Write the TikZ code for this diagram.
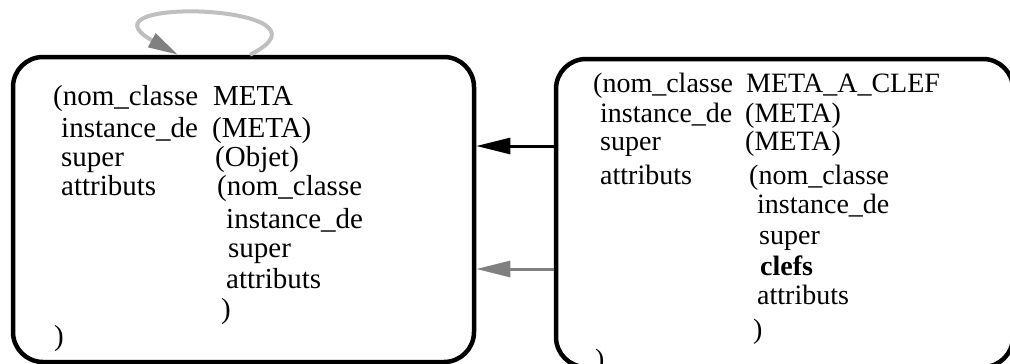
\documentclass[tikz,border=0pt]{standalone}
\usepackage{fontspec}
\setmainfont{Liberation Serif}
\usetikzlibrary{arrows.meta,calc}
\tikzset{
  class box/.style={draw,line width=4.5pt,rounded corners=30pt,inner sep=0pt},
  slot/.style={anchor=base west,inner sep=0pt,font=\fontsize{29}{30}\selectfont},
  clef slot/.style={slot,font=\fontsize{28}{30}\selectfont},
  link arrow/.style={-{Triangle[length=34pt,width=16pt]},line width=3pt},
  loop arrow/.style={draw=gray!50,line width=4pt,-{Triangle[length=30pt,width=15pt,color=gray]}}
}
\begin{document}
\begin{tikzpicture}[x=1pt,y=-1pt]
  \useasboundingbox (0,0) rectangle (1010,364);
  \node[class box,minimum width=461pt,minimum height=305pt] (meta) at (243.5,209.5) {};
  \node[class box,minimum width=457pt,minimum height=308pt] (clef) at (784.5,213) {};
  % slots of META
  \foreach \x/\y/\t [count=\i] in {53/105/{(nom\_classe}, 213/105/META,
      61/137/instance\_de, 212/137/{(META)}, 61/166/super, 215/166/{(Objet)},
      61/195/attributs, 217/195/{(nom\_classe}, 226/228/instance\_de,
      228/257/super, 226/288/attributs, 221/318/{)}, 54/345/{)}}
    \node[slot] (m\i) at (\x,\y) {\t};
  % slots of META_A_CLEF
  \foreach \x/\y/\t [count=\i] in {593/92/{(nom\_classe}, 746/92/META\_A\_CLEF,
      600/122/instance\_de, 745/122/{(META)}, 600/150/super, 745/150/{(META)},
      600/184/attributs, 749/184/{(nom\_classe}, 757/213/instance\_de,
      759/244/super, 760/275/\textbf{clefs}, 757/304/attributs, 753/338/{)}, 595/368/{)}}
    \node[clef slot] (c\i) at (\x,\y) {\t};
  \draw[link arrow] (clef.west |- 0,146) -- (meta.east |- 0,146);
  \draw[link arrow,gray] (clef.west |- 0,269) -- (meta.east |- 0,269);
  \draw[loop arrow] (250,0 |- meta.north) .. controls (350,5) and (70,-5) .. (178,0 |- meta.north);
\end{tikzpicture}
\end{document}
